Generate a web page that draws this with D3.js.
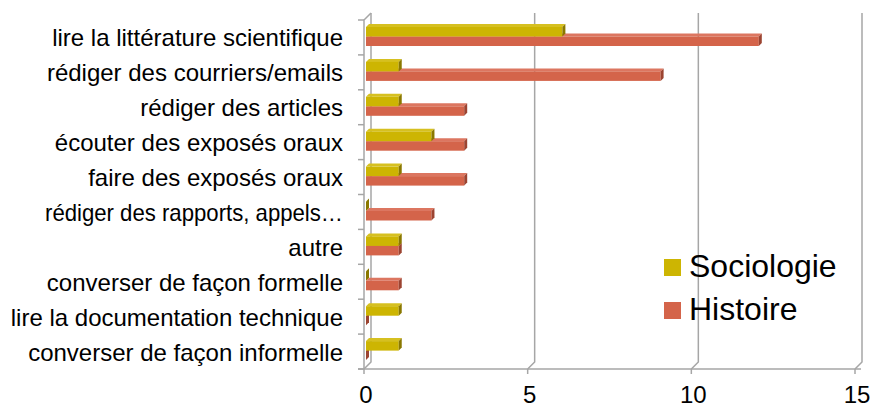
<!DOCTYPE html>
<html>
<head>
<meta charset="utf-8">
<script src="https://cdn.jsdelivr.net/npm/d3@7"></script>
<style>
body { margin: 0; background: #fff; }
text { font-family: "Liberation Sans", Arial, sans-serif; fill: #000; }
</style>
</head>
<body>
<svg width="872" height="408"></svg>
<script>
let categories = ["lire la littérature scientifique", "rédiger des courriers/emails", "rédiger des articles",
    "écouter des exposés oraux", "faire des exposés oraux", "rédiger des rapports, appels…", "autre",
    "converser de façon formelle", "lire la documentation technique", "converser de façon informelle"];
let sociologie = [6, 1, 1, 2, 1, 0, 1, 0, 1, 1];
let histoire = [12, 9, 3, 3, 3, 2, 1, 1, 0, 0];
let ticks = [0, 5, 10, 15];
let seriesNames = ["Sociologie", "Histoire"];

let colors = {"Sociologie": {front: "#cdb502", side: "#8a7800", top: "#d6c020"},
              "Histoire": {front: "#d4644a", side: "#9c4431", top: "#dc7660"}};

let svg = d3.select('svg');

// wall depth and bar depth
let dx = 7, dy = -7;
let bdx = 3, bdy = -3;

let xAxis = d3.scaleLinear().domain([0, 15]).range([364, 855]);
let yAxis = d3.scaleBand().domain(categories).range([20, 369]);
let bottom = 369;
let grey = "#a6a6a6";

let walls = svg.append('g');

// back gridlines with floor diagonal
ticks.forEach(function(t){
    let x0 = xAxis(t);
    walls.append('path')
        .attr('d', 'M' + (x0 + dx) + ',' + (20 + dy) + 'L' + (x0 + dx) + ',' + (bottom + dy) + 'L' + x0 + ',' + bottom)
        .attr('fill', 'none').attr('stroke', grey).attr('stroke-width', 1.5);
});

// left wall front edge
walls.append('path')
    .attr('d', 'M' + (xAxis(0) + dx) + ',' + (20 + dy) + 'L' + xAxis(0) + ',20L' + xAxis(0) + ',' + bottom)
    .attr('fill', 'none').attr('stroke', grey).attr('stroke-width', 1.5);

// bottom axis line + ticks
walls.append('line').attr('x1', xAxis(0) - 6).attr('x2', xAxis(15) + 6).attr('y1', bottom).attr('y2', bottom)
    .attr('stroke', grey).attr('stroke-width', 1.5);
walls.selectAll('.xt').data(ticks).enter().append('line')
    .attr('x1', (d) => xAxis(d)).attr('x2', (d) => xAxis(d))
    .attr('y1', bottom).attr('y2', bottom + 5)
    .attr('stroke', grey).attr('stroke-width', 1.5);

// left category ticks
let bounds = categories.map((c) => yAxis(c)).concat([bottom]);
walls.selectAll('.yt').data(bounds).enter().append('line')
    .attr('x1', xAxis(0) - 6).attr('x2', xAxis(0))
    .attr('y1', (d) => d).attr('y2', (d) => d)
    .attr('stroke', grey).attr('stroke-width', 1.5);

// bars
let barH = 9.5;
function drawBar(g, value, top, c){
    let x0 = xAxis(0) + 2;
    let x1 = xAxis(value) + 2;
    let y0 = top, y1 = top + barH;
    // top face
    g.append('path').attr('d', 'M' + x0 + ',' + y0 + 'L' + (x0 + bdx) + ',' + (y0 + bdy) + 'L' + (x1 + bdx) + ',' + (y0 + bdy) + 'L' + x1 + ',' + y0 + 'Z')
        .attr('fill', c.top);
    // front face
    if (value > 0){
        g.append('rect').attr('x', x0).attr('y', y0).attr('width', x1 - x0).attr('height', barH).attr('fill', c.front);
    }
    // side face
    g.append('path').attr('d', 'M' + x1 + ',' + y0 + 'L' + (x1 + bdx) + ',' + (y0 + bdy) + 'L' + (x1 + bdx) + ',' + (y1 + bdy) + 'L' + x1 + ',' + y1 + 'Z')
        .attr('fill', c.side);
}

let bars = svg.append('g');
categories.forEach(function(cat, i){
    let top = yAxis(cat) + 7;
    drawBar(bars, histoire[i], top + barH, colors["Histoire"]);
    drawBar(bars, sociologie[i], top, colors["Sociologie"]);
});

// category labels (the truncated one is squeezed a bit like the original)
svg.append('g').selectAll('text').data(categories).enter().append('text')
    .attr('x', 343).attr('y', (d) => yAxis(d) + yAxis.bandwidth() / 2 + 9)
    .attr('text-anchor', 'end').style('font-size', '24px')
    .each(function(d){
        if (d.endsWith('…')) d3.select(this).attr('textLength', 298).attr('lengthAdjust', 'spacingAndGlyphs');
    })
    .text((d) => d);

// tick labels
svg.append('g').selectAll('text').data(ticks).enter().append('text')
    .attr('x', (d) => xAxis(d) + 2).attr('y', 403)
    .attr('text-anchor', 'middle').style('font-size', '24px').text((d) => d);

// legend
let legend = svg.append('g');
seriesNames.forEach(function(name, i){
    legend.append('rect').attr('x', 664).attr('y', 259 + i * 43).attr('width', 17).attr('height', 17)
        .attr('fill', colors[name].front);
    legend.append('text').attr('x', 689).attr('y', 277 + i * 43).style('font-size', '32px').text(name);
});
</script>
</body>
</html>
